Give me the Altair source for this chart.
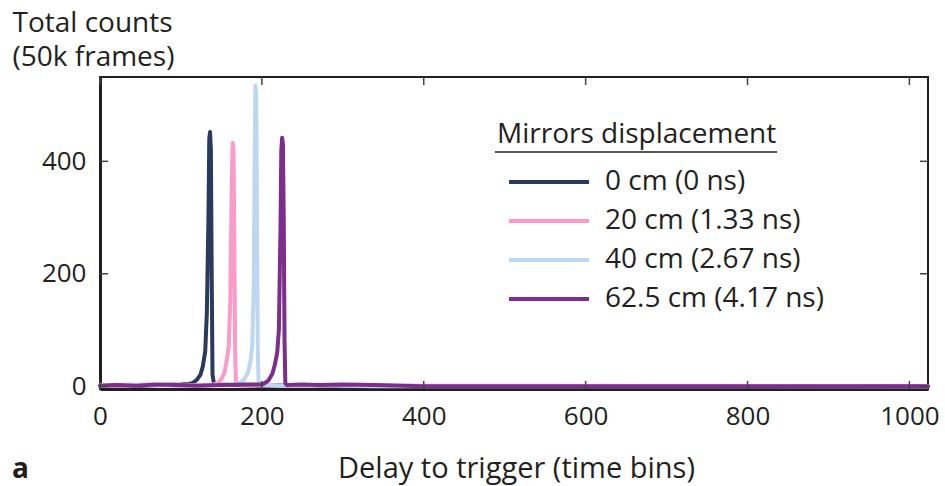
import altair as alt
import pandas as pd

# ---- data ----
series_names = ["0 cm (0 ns)", "20 cm (1.33 ns)", "40 cm (2.67 ns)", "62.5 cm (4.17 ns)"]
series_colors = ["#283a5e", "#fd9ac9", "#bdd7f3", "#7d2d8b"]

navy_x = [0, 25, 50, 75, 100, 110, 115, 120, 124, 127, 130, 132, 134, 135, 136, 137, 138, 139, 141, 160, 200, 250, 300, 1023]
navy_y = [1, 2, 1, 2, 3, 4, 6, 12, 20, 35, 62, 130, 300, 440, 452, 420, 200, 20, 3, 2, 1, 2, 0, 0]

pink_x = [0, 30, 60, 90, 120, 140, 145, 150, 154, 157, 159, 161, 163, 164, 165, 166, 167, 168, 170, 190, 230, 280, 330, 1023]
pink_y = [2, 1, 3, 1, 2, 3, 5, 12, 25, 50, 70, 150, 380, 433, 420, 250, 60, 6, 3, 2, 1, 2, 1, 0]

lblue_x = [0, 35, 70, 105, 140, 165, 172, 178, 183, 186, 188, 190, 191, 192, 193, 194, 195, 196, 198, 220, 260, 300, 340, 1023]
lblue_y = [1, 3, 2, 1, 2, 3, 5, 12, 25, 45, 70, 180, 400, 535, 520, 300, 60, 6, 3, 1, 2, 1, 0, 0]

purple_x = [0, 20, 45, 70, 95, 120, 150, 180, 200, 203, 208, 213, 216, 219, 221, 223, 224, 225, 226, 227, 228, 229, 231, 250, 270, 300, 340, 400, 1023]
purple_y = [1, 2, 1, 3, 2, 1, 2, 3, 3, 5, 10, 22, 38, 60, 100, 280, 420, 442, 430, 300, 80, 5, 2, 3, 2, 3, 2, 0, 0]

x_ticks = [0, 200, 400, 600, 800, 1000]
y_ticks = [0, 200, 400]

# ---- build table ----
rows = []
for name, xs, ys in zip(series_names,
                        [navy_x, pink_x, lblue_x, purple_x],
                        [navy_y, pink_y, lblue_y, purple_y]):
    for xv, yv in zip(xs, ys):
        rows.append({"series": name, "bin": xv, "counts": yv})
df = pd.DataFrame(rows)
df["order"] = df["series"].map({n: i for i, n in enumerate(series_names)})

W, H = 828, 312
FONT = "Open Sans"
INK = "#231f20"

xscale = alt.Scale(domain=[0, 1023], nice=False, zero=False)
yscale = alt.Scale(domain=[-5, 550], nice=False, zero=False)

lines = alt.Chart(df).mark_line(strokeWidth=4, strokeCap="round", strokeJoin="round").encode(
    x=alt.X("bin:Q", scale=xscale,
            axis=alt.Axis(values=x_ticks, format="d", title="Delay to trigger (time bins)", ticks=False,
                          labelFontSize=26, labelFont=FONT, labelColor=INK, labelPadding=14,
                          labelFlush=False,
                          titleFontSize=29, titleFont=FONT, titleColor=INK, titleFontWeight="normal",
                          titleBaseline="alphabetic", titleY=88, titleX=416,
                          domainColor=INK, domainWidth=3, grid=False)),
    y=alt.Y("counts:Q", scale=yscale,
            axis=alt.Axis(values=y_ticks, title=["Total counts", "(50k frames)"], ticks=False,
                          labelFontSize=26, labelFont=FONT, labelColor=INK, labelPadding=14,
                          labelBaseline="middle", labelFlush=False,
                          titleFontSize=28, titleFont=FONT, titleColor=INK, titleFontWeight="normal",
                          titleAngle=0, titleAlign="left", titleBaseline="alphabetic",
                          titleX=-88, titleY=-46, titleLineHeight=34,
                          domainColor=INK, domainWidth=3, grid=False)),
    color=alt.Color("series:N", sort=series_names,
                    scale=alt.Scale(domain=series_names, range=series_colors),
                    legend=alt.Legend(title="Mirrors displacement", orient="none",
                                      legendX=397, legendY=44,
                                      symbolType="stroke", symbolSize=6400, symbolStrokeWidth=4,
                                      symbolOffset=10, labelOffset=14,
                                      labelFontSize=28, labelFont=FONT, labelColor=INK,
                                      titleFontSize=28, titleFont=FONT, titleColor=INK,
                                      titleFontWeight="normal", titlePadding=20,
                                      clipHeight=26, rowPadding=11,
                                      labelLimit=400, titleLimit=400)),
    order=alt.Order("order:Q"),
    detail="series:N",
)

xt = pd.DataFrame({"t": x_ticks})
yt = pd.DataFrame({"t": y_ticks})
bottom_ticks = alt.Chart(xt).mark_rule(color="#444", strokeWidth=1.5).encode(
    x=alt.X("t:Q", scale=xscale), y=alt.value(H), y2=alt.value(H - 8))
top_ticks = alt.Chart(xt).mark_rule(color="#444", strokeWidth=1.5).encode(
    x=alt.X("t:Q", scale=xscale), y=alt.value(0), y2=alt.value(8))
left_ticks = alt.Chart(yt).mark_rule(color="#444", strokeWidth=1.5).encode(
    y=alt.Y("t:Q", scale=yscale), x=alt.value(0), x2=alt.value(8))
right_ticks = alt.Chart(yt).mark_rule(color="#444", strokeWidth=1.5).encode(
    y=alt.Y("t:Q", scale=yscale), x=alt.value(W), x2=alt.value(W - 8))

underline = alt.Chart(pd.DataFrame({"k": [0]})).mark_rule(color=INK, strokeWidth=1.5).encode(
    x=alt.value(395), x2=alt.value(677), y=alt.value(75))

panel = alt.Chart(pd.DataFrame({"label": ["a"]})).mark_text(
    font=FONT, fontSize=28, fontWeight="bold", color=INK, align="left", baseline="alphabetic"
).encode(text="label:N", x=alt.value(-88), y=alt.value(H + 89))

chart = alt.layer(lines, bottom_ticks, top_ticks, left_ticks, right_ticks, underline, panel).properties(
    width=W, height=H,
    autosize=alt.AutoSizeParams(type="none"),
    padding={"left": 100, "top": 77, "right": 17, "bottom": 97},
    background="white",
).configure_view(stroke=INK, strokeWidth=2)

chart.save("out.html", embed_options={"renderer": "svg", "actions": False})
